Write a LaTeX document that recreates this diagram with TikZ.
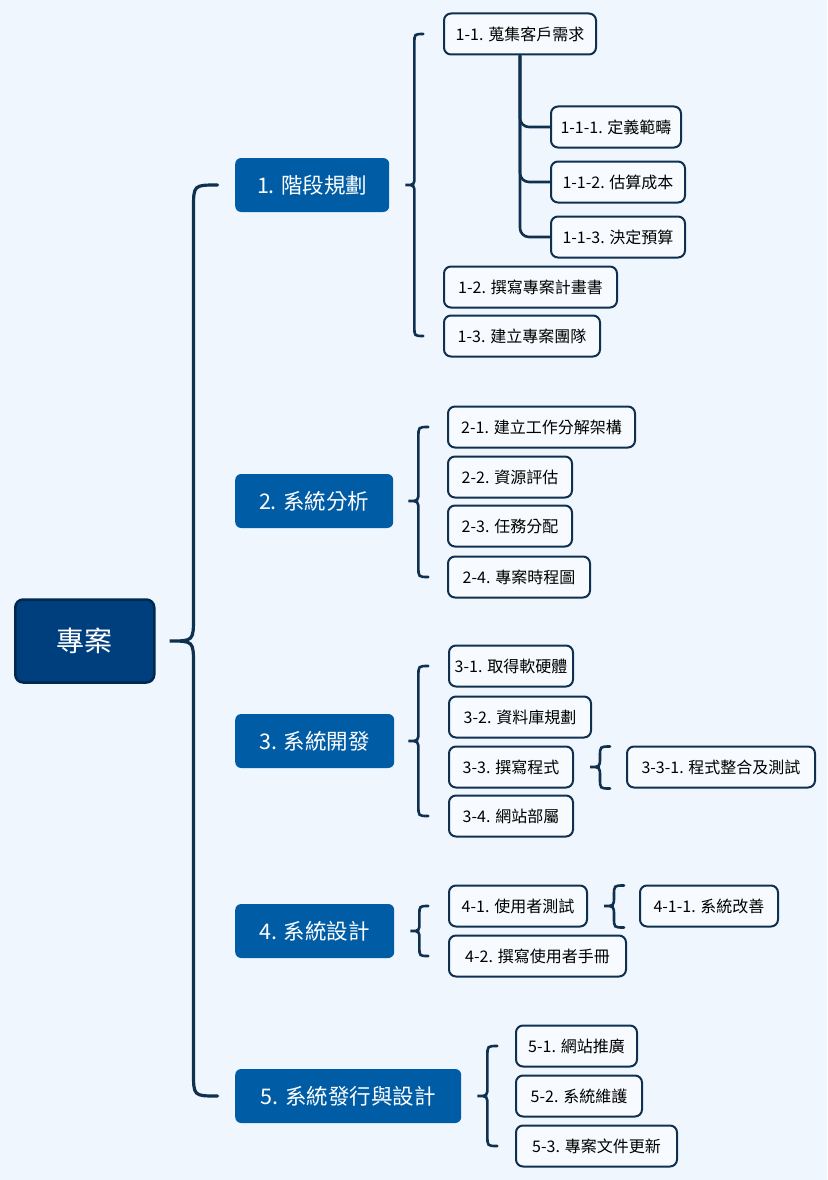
\documentclass[tikz,border=0pt]{standalone}
\usepackage{fontspec}
\newfontfamily\cjk{Noto Sans CJK TC}
\usetikzlibrary{calc}
\definecolor{pagebg}{HTML}{EFF6FE}
\definecolor{rootfill}{HTML}{003F7E}
\definecolor{rootline}{HTML}{00294F}
\definecolor{mainfill}{HTML}{005DA5}
\definecolor{leaffill}{HTML}{F7FAFE}
\definecolor{linkcol}{HTML}{10304F}

% Curly brace from a parent node to a column of children
% #1 parent, #2 top end, #3 bottom end, #4 gap to tip (pt), #5 radius (pt), #6 style
\newcommand\bracelink[6]{%
  \draw[#6] let \p1=($(#1.east)+(#4pt,0)$), \p2=(#2), \p3=(#3) in
    (\x1+2*#5pt,\y2) .. controls (\x1+#5pt,\y2) .. (\x1+#5pt,\y2-#5pt)
    -- (\x1+#5pt,\y1+#5pt) .. controls (\x1+#5pt,\y1) .. (\x1,\y1)
    .. controls (\x1+#5pt,\y1) .. (\x1+#5pt,\y1-#5pt)
    -- (\x1+#5pt,\y3+#5pt) .. controls (\x1+#5pt,\y3) .. (\x1+2*#5pt,\y3);}

\tikzset{
  rootbox/.style={draw=rootline, line width=2.5pt, fill=rootfill, rounded corners=8pt,
    text=white, font=\cjk\fontsize{28}{30}\selectfont, minimum height=83pt, anchor=west, inner xsep=4pt},
  mainbox/.style={fill=mainfill, rounded corners=6pt, text=white,
    font=\cjk\fontsize{21.5}{24}\selectfont, minimum height=54pt, anchor=west, inner xsep=4pt},
  leaf/.style={draw=linkcol, line width=2pt, fill=leaffill, rounded corners=7pt, text=black,
    font=\cjk\fontsize{16}{19}\selectfont, minimum height=41pt, anchor=west, inner xsep=2pt},
  link/.style={draw=linkcol, line width=2.6pt, line cap=round},
  rootlink/.style={draw=linkcol, line width=3.2pt, line cap=round},
  tree/.style={draw=linkcol, line width=2.6pt, rounded corners=9pt},
}

\begin{document}
\begin{tikzpicture}[x=1pt,y=-1pt]
\fill[pagebg] (0,0) rectangle (827,1180);
\useasboundingbox (0,0) rectangle (827,1180);

% root
\node[rootbox, minimum width=139pt] (root) at (14,641) {專案};

% main phases
\node[mainbox, minimum width=154pt] (n1) at (235,185) {1. 階段規劃};
\node[mainbox, minimum width=158pt] (n2) at (235,501) {2. 系統分析};
\node[mainbox, minimum width=159pt] (n3) at (235,741) {3. 系統開發};
\node[mainbox, minimum width=159pt] (n4) at (235,931) {4. 系統設計};
\node[mainbox, minimum width=226pt] (n5) at (235,1096) {5. 系統發行與設計};

% phase 1
\node[leaf, minimum width=152pt] (c11) at (443,34) {1-1. 蒐集客戶需求};
\node[leaf, minimum width=130pt] (c111) at (550,127) {1-1-1. 定義範疇};
\node[leaf, minimum width=134pt] (c112) at (550,182) {1-1-2. 估算成本};
\node[leaf, minimum width=134pt] (c113) at (550,237) {1-1-3. 決定預算};
\node[leaf, minimum width=173pt] (c12) at (443,287) {1-2. 撰寫專案計畫書};
\node[leaf, minimum width=156pt] (c13) at (443,336) {1-3. 建立專案團隊};

% phase 2
\node[leaf, minimum width=187pt] (c21) at (447,427) {2-1. 建立工作分解架構};
\node[leaf, minimum width=124pt] (c22) at (447,477) {2-2. 資源評估};
\node[leaf, minimum width=124pt] (c23) at (447,526) {2-3. 任務分配};
\node[leaf, minimum width=142pt] (c24) at (447,577) {2-4. 專案時程圖};

% phase 3
\node[leaf, minimum width=124pt] (c31) at (448,666) {3-1. 取得軟硬體};
\node[leaf, minimum width=142pt] (c32) at (448,717) {3-2. 資料庫規劃};
\node[leaf, minimum width=124pt] (c33) at (448,767) {3-3. 撰寫程式};
\node[leaf, minimum width=124pt] (c34) at (448,816) {3-4. 網站部屬};
\node[leaf, minimum width=188pt] (c331) at (626,767) {3-3-1. 程式整合及測試};

% phase 4
\node[leaf, minimum width=138pt] (c41) at (448,906) {4-1. 使用者測試};
\node[leaf, minimum width=177pt] (c42) at (448,956) {4-2. 撰寫使用者手冊};
\node[leaf, minimum width=138pt] (c411) at (639,906) {4-1-1. 系統改善};

% phase 5
\node[leaf, minimum width=121pt] (c51) at (515,1046) {5-1. 網站推廣};
\node[leaf, minimum width=126pt] (c52) at (515,1096) {5-2. 系統維護};
\node[leaf, minimum width=161pt] (c53) at (515,1146) {5-3. 專案文件更新};

% braces
\bracelink{root}{n1.west}{n5.west}{14}{24}{rootlink}
\bracelink{n1}{c11.west}{c13.west}{16}{9}{link}
\bracelink{n2}{c21.west}{c24.west}{15}{10}{link}
\bracelink{n3}{c31.west}{c34.west}{14}{10}{link}
\bracelink{n4}{c41.west}{c42.west}{16}{9}{link}
\bracelink{n5}{c51.west}{c53.west}{16}{10}{link}
\bracelink{c33}{$(c331.north west)+(0,-1pt)$}{c331.south west}{16}{10}{link}
\bracelink{c41}{$(c411.north west)+(0,-1pt)$}{c411.south west}{16}{10}{link}

% tree under 1-1
\draw[tree] (c11.south) |- (c111.west);
\draw[tree] (c11.south) |- (c112.west);
\draw[tree] (c11.south) |- (c113.west);
\end{tikzpicture}
\end{document}
